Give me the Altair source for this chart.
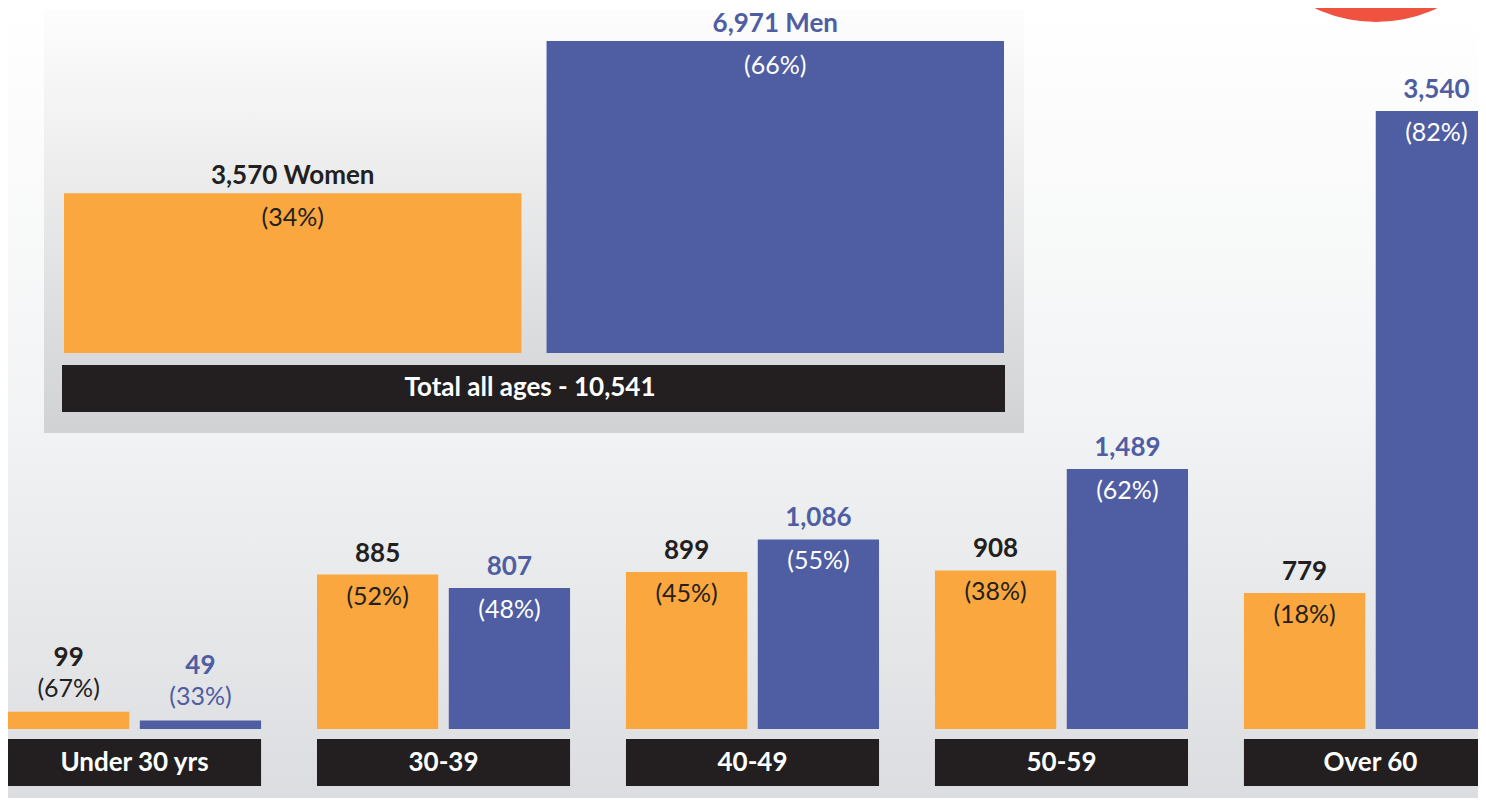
import altair as alt
import pandas as pd

# ---- data ----
groups = ["Under 30 yrs", "30-39", "40-49", "50-59", "Over 60"]
women = [99, 885, 899, 908, 779]
men = [49, 807, 1086, 1489, 3540]
women_pct = [67, 52, 45, 38, 18]
men_pct = [33, 48, 55, 62, 82]

total_sexes = ["Women", "Men"]
total_values = [3570, 6971]
total_pct = [34, 66]
total_all = 10541

ORANGE = "#F9A73E"
BLUE = "#4F5DA2"
DARK = "#231F20"
FONT = "Lato"

W, H = 1470, 790

rows = []
for g, w, m, wp, mp in zip(groups, women, men, women_pct, men_pct):
    rows.append({"group": g, "sex": "Women", "value": w, "num": f"{w:,}", "pct": f"({wp}%)"})
    rows.append({"group": g, "sex": "Men", "value": m, "num": f"{m:,}", "pct": f"({mp}%)"})
bottom = pd.DataFrame(rows)

top = pd.DataFrame({
    "sex": total_sexes,
    "value": total_values,
    "num": [f"{v:,} {s}" for v, s in zip(total_values, total_sexes)],
    "pct": [f"({p}%)" for p in total_pct],
})
groups_df = pd.DataFrame({"group": groups})
one = pd.DataFrame({"k": [0]})

# ---- scales ----
bx = alt.X("group:N", sort=groups, axis=None,
           scale=alt.Scale(type="band", domain=groups, range=[0, 1489],
                           paddingInner=0.181, paddingOuter=0))
bxo = alt.XOffset("sex:N", sort=["Women", "Men"],
                  scale=alt.Scale(type="band", domain=["Women", "Men"],
                                  paddingInner=0.08, paddingOuter=0))
by = alt.Y("value:Q", axis=None, scale=alt.Scale(domain=[0, 4130], range=[721, 0]))

tx = alt.X("sex:N", sort=total_sexes, axis=None,
           scale=alt.Scale(type="band", domain=total_sexes, range=[56, 996],
                           paddingInner=0.052, paddingOuter=0))
ty = alt.Y("value:Q", axis=None, scale=alt.Scale(domain=[0, 7708], range=[345, 0]))

fill_color = alt.Color("sex:N", legend=None,
                       scale=alt.Scale(domain=["Women", "Men"], range=[ORANGE, BLUE]))
num_color = alt.Color("sex:N", legend=None,
                      scale=alt.Scale(domain=["Women", "Men"], range=[DARK, BLUE]))
pct_in_color = alt.Color("sex:N", legend=None,
                         scale=alt.Scale(domain=["Women", "Men"], range=[DARK, "#FFFFFF"]))

NUM_SIZE = 26
PCT_SIZE = 25

# ---- decoration ----
bg = alt.Chart(one).mark_rect(
    color=alt.Gradient(gradient="linear", x1=0, x2=0, y1=0, y2=1,
                       stops=[alt.GradientStop(color="#FFFFFF", offset=0),
                              alt.GradientStop(color="#F3F4F5", offset=0.5),
                              alt.GradientStop(color="#DCDDE0", offset=1)])
).encode(x=alt.value(0), x2=alt.value(W), y=alt.value(0), y2=alt.value(H))

circle = alt.Chart(one).mark_point(shape="circle", filled=True, size=284 * 284,
                                   color="#EF5340", opacity=1, strokeWidth=0).encode(
    x=alt.value(1368), y=alt.value(-128))

panel = alt.Chart(one).mark_rect(
    color=alt.Gradient(gradient="linear", x1=0, x2=0, y1=0, y2=1,
                       stops=[alt.GradientStop(color="#FDFDFD", offset=0),
                              alt.GradientStop(color="#D1D2D4", offset=1)])
).encode(x=alt.value(36), x2=alt.value(1016), y=alt.value(2), y2=alt.value(425))

# ---- top panel ----
top_bars = alt.Chart(top).mark_bar().encode(x=tx, y=ty, color=fill_color)
top_num = alt.Chart(top).mark_text(font=FONT, fontSize=NUM_SIZE, fontWeight="bold", dy=-17,
                                   baseline="middle").encode(x=tx, y=ty, text="num:N", color=num_color)
top_pct = alt.Chart(top).mark_text(font=FONT, fontSize=PCT_SIZE, dy=25,
                                   baseline="middle").encode(x=tx, y=ty, text="pct:N", color=pct_in_color)
top_label_rect = alt.Chart(one).mark_rect(color=DARK).encode(
    x=alt.value(54), x2=alt.value(997), y=alt.value(357), y2=alt.value(404))
top_label = alt.Chart(one).mark_text(font=FONT, fontSize=NUM_SIZE, fontWeight="bold", color="#FFFFFF",
                                     baseline="middle").encode(
    x=alt.value(522), y=alt.value(380), text=alt.value(f"Total all ages - {total_all:,}"))

# ---- bottom groups ----
bars = alt.Chart(bottom).mark_bar().encode(x=bx, xOffset=bxo, y=by, color=fill_color)

big = "datum.value >= 200"
small = "datum.value < 200"
num_big = alt.Chart(bottom).transform_filter(big).mark_text(
    font=FONT, fontSize=NUM_SIZE, fontWeight="bold", dy=-21, baseline="middle").encode(
    x=bx, xOffset=bxo, y=by, text="num:N", color=num_color)
pct_big = alt.Chart(bottom).transform_filter(big).mark_text(
    font=FONT, fontSize=PCT_SIZE, dy=22, baseline="middle").encode(
    x=bx, xOffset=bxo, y=by, text="pct:N", color=pct_in_color)
num_small = alt.Chart(bottom).transform_filter(small).mark_text(
    font=FONT, fontSize=NUM_SIZE, fontWeight="bold", dy=-54, baseline="middle").encode(
    x=bx, xOffset=bxo, y=by, text="num:N", color=num_color)
pct_small = alt.Chart(bottom).transform_filter(small).mark_text(
    font=FONT, fontSize=PCT_SIZE, dy=-23, baseline="middle").encode(
    x=bx, xOffset=bxo, y=by, text="pct:N", color=num_color)

label_rects = alt.Chart(groups_df).mark_rect(color=DARK).encode(
    x=bx, y=alt.value(731), y2=alt.value(778))
label_text = alt.Chart(groups_df).mark_text(font=FONT, fontSize=NUM_SIZE, fontWeight="bold",
                                            color="#FFFFFF", baseline="middle").encode(
    x=bx, y=alt.value(755), text="group:N")

chart = alt.layer(
    bg, circle, panel,
    top_bars, top_num, top_pct, top_label_rect, top_label,
    bars, num_big, pct_big, num_small, pct_small, label_rects, label_text,
).resolve_scale(
    x="independent", y="independent", color="independent", xOffset="independent"
).properties(
    width=W, height=H, padding=0, autosize="none", background="#FFFFFF"
).configure_view(stroke=None)

chart.save("out.html", embed_options={"renderer": "svg", "actions": False})
